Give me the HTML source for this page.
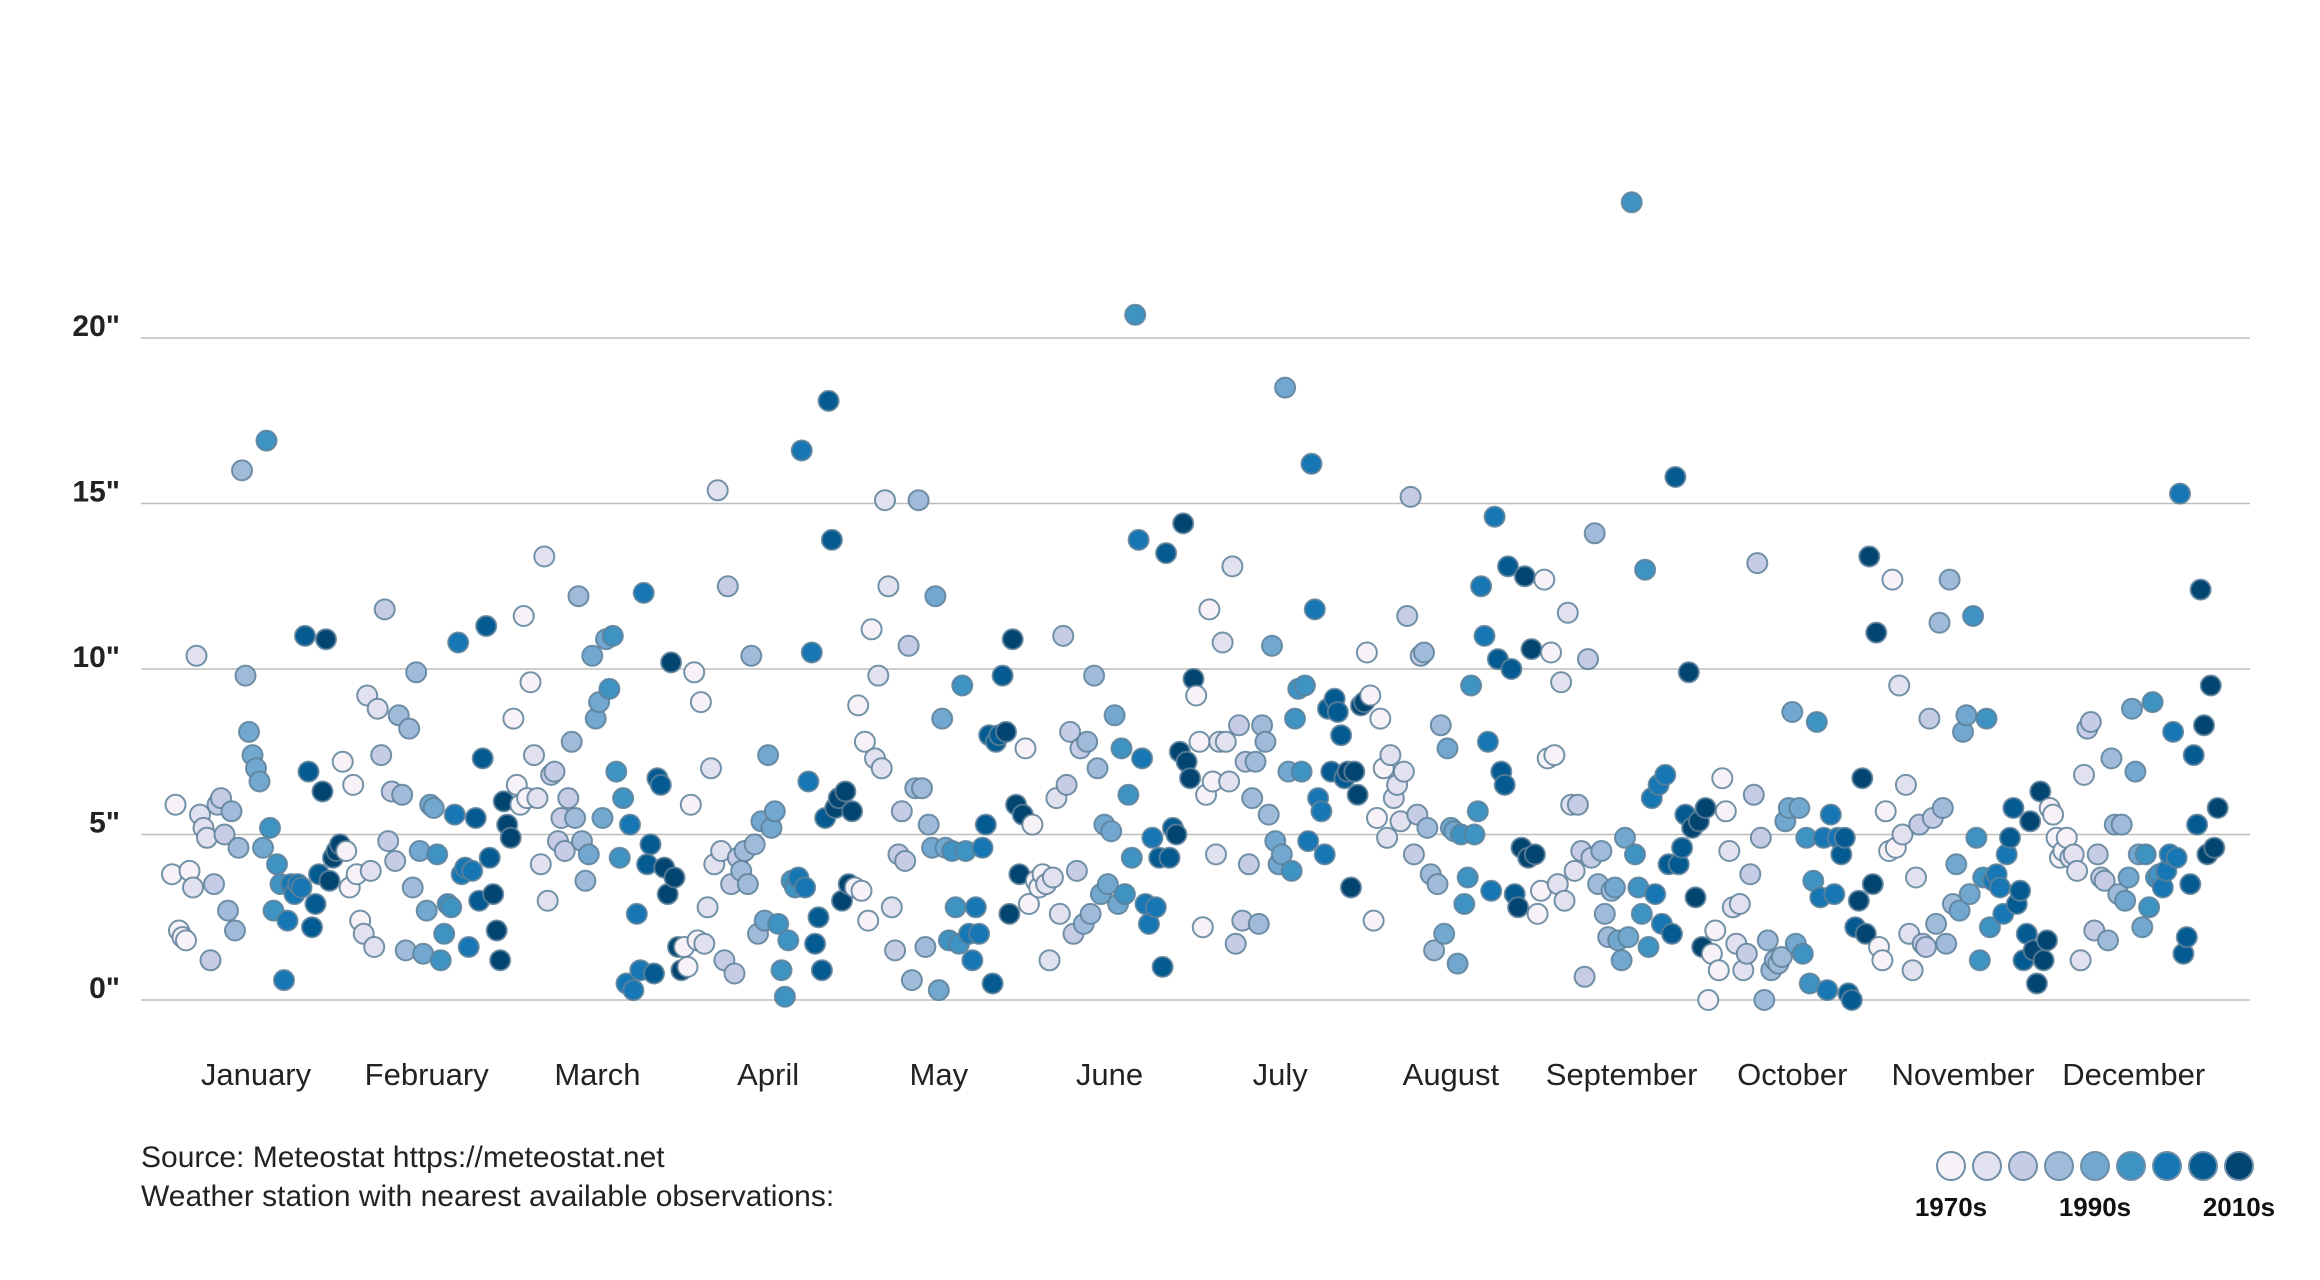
<!DOCTYPE html>
<html><head><meta charset="utf-8">
<style>
html,body{margin:0;padding:0;background:#fff;}
svg{display:block;font-family:"Liberation Sans",sans-serif;}
</style></head>
<body>
<svg id="chart" width="2320" height="1280" viewBox="0 0 2320 1280">
  <g id="grid"></g>
  <g id="ylabels"></g>
  <g id="xlabels"></g>
  <g id="points"></g>
  <text x="141" y="1167" font-size="30" fill="#222">Source: Meteostat https://meteostat.net</text>
  <text x="141" y="1206" font-size="30" fill="#222">Weather station with nearest available observations:</text>
  <g id="legend"></g>
</svg>
<script>
const months = ["January","February","March","April","May","June","July","August","September","October","November","December"];
const yTicks = [0,5,10,15,20];
const yTickLabels = ['0"','5"','10"','15"','20"'];
const firstYear = 1970;
const lastYear = 2018;
const legendLabels = ["1970s","1990s","2010s"];
const jan = [3.8,5.9,2.1,1.9,1.8,3.9,3.4,10.4,5.6,5.2,4.9,1.2,3.5,5.9,6.1,5.0,2.7,5.7,2.1,4.6,16.0,9.8,8.1,7.4,7.0,6.6,4.6,16.9,5.2,2.7,4.1,3.5,0.6,2.4,3.5,3.2,3.5,3.4,11.0,6.9,2.2,2.9,3.8,6.3,10.9,3.6,4.3,4.5,4.7];
const feb = [7.2,4.5,3.4,6.5,3.8,2.4,2.0,9.2,3.9,1.6,8.8,7.4,11.8,4.8,6.3,4.2,8.6,6.2,1.5,8.2,3.4,9.9,4.5,1.4,2.7,5.9,5.8,4.4,1.2,2.0,2.9,2.8,5.6,10.8,3.8,4.0,1.6,3.9,5.5,3.0,7.3,11.3,4.3,3.2,2.1,1.2,6.0,5.3,4.9];
const mar = [8.5,6.5,5.9,11.6,6.1,9.6,7.4,6.1,4.1,13.4,3.0,6.8,6.9,4.8,5.5,4.5,6.1,7.8,5.5,12.2,4.8,3.6,4.4,10.4,8.5,9.0,5.5,10.9,9.4,11.0,6.9,4.3,6.1,0.5,5.3,0.3,2.6,0.9,12.3,4.1,4.7,0.8,6.7,6.5,4.0,3.2,10.2,3.7,1.6,0.9];
const apr = [1.6,1.0,5.9,9.9,1.8,9.0,1.7,2.8,7.0,4.1,15.4,4.5,1.2,12.5,3.5,0.8,4.3,3.9,4.5,3.5,10.4,4.7,2.0,5.4,2.4,7.4,5.2,5.7,2.3,0.9,0.1,1.8,3.6,3.4,3.7,16.6,3.4,6.6,10.5,1.7,2.5,0.9,5.5,18.1,13.9,5.8,6.1,3.0,6.3,3.5,5.7];
const may = [3.4,8.9,3.3,7.8,2.4,11.2,7.3,9.8,7.0,15.1,12.5,2.8,1.5,4.4,5.7,4.2,10.7,0.6,6.4,15.1,6.4,1.6,5.3,4.6,12.2,0.3,8.5,4.6,1.8,4.5,2.8,1.7,9.5,4.5,2.0,1.2,2.8,2.0,4.6,5.3,8.0,0.5,7.8,8.0,9.8,8.1,2.6,10.9,5.9,3.8,5.6];
const jun = [7.6,2.9,5.3,3.6,3.4,3.8,3.5,1.2,3.7,6.1,2.6,11.0,6.5,8.1,2.0,3.9,7.6,2.3,7.8,2.6,9.8,7.0,3.2,5.3,3.5,5.1,8.6,2.9,7.6,3.2,6.2,4.3,20.7,13.9,7.3,2.9,2.3,4.9,2.8,4.3,1.0,13.5,4.3,5.2,5.0,7.5,14.4,7.2,6.7,9.7];
const jul = [9.2,7.8,2.2,6.2,11.8,6.6,4.4,7.8,10.8,7.8,6.6,13.1,1.7,8.3,2.4,7.2,4.1,6.1,7.2,2.3,8.3,7.8,5.6,10.7,4.8,4.1,4.4,18.5,6.9,3.9,8.5,9.4,6.9,9.5,4.8,16.2,11.8,6.1,5.7,4.4,8.8,6.9,9.1,8.7,8.0,6.7,6.9,3.4,6.9,6.2,8.9,9.0];
const aug = [10.5,9.2,2.4,5.5,8.5,7.0,4.9,7.4,6.1,6.5,5.4,6.9,11.6,15.2,4.4,5.6,10.4,10.5,5.2,3.8,1.5,3.5,8.3,2.0,7.6,5.2,5.1,1.1,5.0,2.9,3.7,9.5,5.0,5.7,12.5,11.0,7.8,3.3,14.6,10.3,6.9,6.5,13.1,10.0,3.2,2.8,4.6,12.8,4.3,10.6,4.4];
const sep = [2.6,3.3,12.7,7.3,10.5,7.4,3.5,9.6,3.0,11.7,5.9,3.9,5.9,4.5,0.7,10.3,4.3,14.1,3.5,4.5,2.6,1.9,3.3,3.4,1.8,1.2,4.9,1.9,24.1,4.4,3.4,2.6,13.0,1.6,6.1,3.2,6.5,2.3,6.8,4.1,2.0,15.8,4.1,4.6,5.6,9.9,5.2,3.1,5.4,1.6,5.8];
const oct = [0.0,1.4,2.1,0.9,6.7,5.7,4.5,2.8,1.7,2.9,0.9,1.4,3.8,6.2,13.2,4.9,0.0,1.8,0.9,1.2,1.1,1.3,5.4,5.8,8.7,1.7,5.8,1.4,4.9,0.5,3.6,8.4,3.1,4.9,0.3,5.6,3.2,4.9,4.4,4.9,0.2,0.0,2.2,3.0,6.7,2.0,13.4,3.5,11.1];
const nov = [1.6,1.2,5.7,4.5,12.7,4.6,9.5,5.0,6.5,2.0,0.9,3.7,5.3,1.7,1.6,8.5,5.5,2.3,11.4,5.8,1.7,12.7,2.9,4.1,2.7,8.1,8.6,3.2,11.6,4.9,1.2,3.7,8.5,2.2,3.6,3.8,3.4,2.6,4.4,4.9,5.8,2.9,3.3,1.2,2.0,5.4,1.5,0.5,6.3,1.2,1.8];
const dec = [5.8,5.6,4.9,4.3,4.5,4.9,4.3,4.4,3.9,1.2,6.8,8.2,8.4,2.1,4.4,3.7,3.6,1.8,7.3,5.3,3.2,5.3,3.0,3.7,8.8,6.9,4.4,2.2,4.4,2.8,9.0,3.7,3.8,3.4,3.9,4.4,8.1,4.3,15.3,1.4,1.9,3.5,7.4,5.3,12.4,8.3,4.4,9.5,4.6,5.8];
const monthValues = [jan,feb,mar,apr,may,jun,jul,aug,sep,oct,nov,dec];
const palette = ["#f6f2f8","#e2e1ef","#c6cce5","#9fbbd9","#72a8cf","#3f93c2","#1677b4","#045b92","#034571"];

const NS = "http://www.w3.org/2000/svg";
const plotLeft = 141, plotRight = 2250;
const y0 = 1000, pxPerInch = 33.1;
const monthCenter0 = 256, monthStep = 170.7, bandHalf = 84;
function yScale(v){ return y0 - v*pxPerInch; }
function monthX(m){ return monthCenter0 + m*monthStep; }
function yearX(m, frac){ return monthX(m) - bandHalf + frac*2*bandHalf; }
function colorFor(frac){ return palette[Math.min(8, Math.floor(frac*9))]; }
function mk(tag, attrs, parent){ const e=document.createElementNS(NS,tag); for(const k in attrs) e.setAttribute(k,attrs[k]); parent.appendChild(e); return e; }

const grid=document.getElementById('grid'), yl=document.getElementById('ylabels');
yTicks.forEach((t,i)=>{
  const ln=mk('line',{x1:plotLeft,x2:plotRight,y1:yScale(t),y2:yScale(t),stroke:'#bdbdbd','stroke-width':1.5},grid);
  
  
  const tx=mk('text',{x:120,y:yScale(t)-2,'text-anchor':'end','font-size':30,'font-weight':'bold',fill:'#222'},yl);
  tx.textContent=yTickLabels[i];
  
  
});
const xl=document.getElementById('xlabels');
months.forEach((m,i)=>{
  const tx=mk('text',{x:monthX(i),y:1085,'text-anchor':'middle','font-size':31,fill:'#222'},xl);
  tx.textContent=m;
  
  
});
const pts=document.getElementById('points');
monthValues.forEach((vals,m)=>{
  const n=vals.length;
  vals.forEach((v,i)=>{
    const frac=i/(n-1);
    const c=mk('circle',{cx:yearX(m,frac).toFixed(1),cy:yScale(v).toFixed(1),r:10,fill:colorFor(frac),stroke:'#5d8099','stroke-width':2,'stroke-opacity':0.85},pts);
    
    
  });
});
const lg=document.getElementById('legend');
palette.forEach((col,i)=>{
  const c=mk('circle',{cx:1951+i*36,cy:1166,r:14,fill:col,stroke:'#6f8fa8','stroke-width':2},lg);
  
  
});
legendLabels.forEach((l,i)=>{
  const tx=mk('text',{x:1951+i*144,y:1216,'text-anchor':'middle','font-size':26,'font-weight':'bold',fill:'#111'},lg);
  tx.textContent=l;
  
  
});
</script>
</body></html>
